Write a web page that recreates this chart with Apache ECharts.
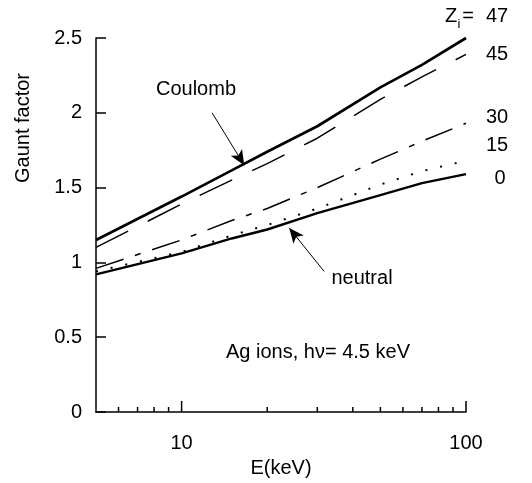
<!DOCTYPE html>
<html>
<head>
<meta charset="utf-8">
<script src="https://cdn.jsdelivr.net/npm/echarts@6/dist/echarts.min.js"></script>
<style>
  html, body { margin: 0; padding: 0; background: #fff; }
  #chart { width: 532px; height: 483px; }
</style>
</head>
<body>
<div id="chart"></div>
<script>
// Electron energy (keV) at which each curve is sampled
const energies = [5, 10, 15, 20, 30, 50, 70, 100];

// Gaunt factor for Ag ions of charge Zi, photon energy 4.5 keV
const gauntZ47 = [1.15, 1.44, 1.615, 1.74, 1.91, 2.17, 2.32, 2.50];
const gauntZ45 = [1.10, 1.39, 1.55, 1.66, 1.83, 2.09, 2.24, 2.39];
const gauntZ30 = [0.96, 1.15, 1.28, 1.36, 1.50, 1.69, 1.81, 1.93];
const gauntZ15 = [0.94, 1.07, 1.18, 1.25, 1.36, 1.52, 1.61, 1.68];
const gauntZ0  = [0.92, 1.06, 1.16, 1.22, 1.33, 1.45, 1.53, 1.59];

// Tick positions on the logarithmic energy axis
const majorTicksX = [10, 100];
const minorTicksX = [6, 7, 8, 9, 20, 30, 40, 50, 60, 70, 80, 90];
const labelledTicksX = [10, 100];

// Arrow annotations, [E, G] at tail and head
const coulombArrow = [[12.8, 2.0], [16.6, 1.65]];
const neutralArrow = [[31.7, 0.94], [23.9, 1.23]];

const FONT = '"Liberation Sans", Arial, Helvetica, sans-serif';
const FS = 20;
const TXT = FS + 'px ' + FONT;

function pairs(ys) { return energies.map((e, i) => [e, ys[i]]); }

function curve(name, ys, width, dash) {
  return {
    name: name,
    type: 'line',
    data: pairs(ys),
    showSymbol: false,
    symbol: 'none',
    smooth: false,
    silent: true,
    lineStyle: { color: '#000', width: width, type: dash, cap: 'butt' }
  };
}

function arrow(pts) {
  return {
    silent: true,
    symbol: ['none', 'arrow'],
    symbolSize: [10, 15],
    label: { show: false },
    lineStyle: { color: '#000', width: 1, type: 'solid' },
    data: [[{ coord: pts[0] }, { coord: pts[1] }]]
  };
}

function tickSeries(values, len) {
  return {
    type: 'custom',
    silent: true,
    data: values.map(v => [v, 0]),
    renderItem: function (params, api) {
      const p = api.coord([api.value(0), 0]);
      return {
        type: 'line',
        shape: { x1: p[0], y1: p[1], x2: p[0], y2: p[1] - len },
        style: { stroke: '#000', lineWidth: 1.5 }
      };
    }
  };
}

function label(text, x, y, extra) {
  return Object.assign({
    type: 'text', x: x, y: y, silent: true,
    style: { text: text, font: TXT, fill: '#000', align: 'center', verticalAlign: 'middle' }
  }, extra || {});
}

const s47 = curve('47', gauntZ47, 2.7, 'solid');
s47.markLine = arrow(coulombArrow);
const s0 = curve('0', gauntZ0, 2.4, 'solid');
s0.markLine = arrow(neutralArrow);

const chart = echarts.init(document.getElementById('chart'), null, { renderer: 'canvas' });

chart.setOption({
  animation: false,
  backgroundColor: '#fff',
  grid: { left: 96, right: 66, top: 38, bottom: 71, containLabel: false },
  xAxis: {
    type: 'log',
    logBase: 10,
    min: 5,
    max: 100,
    name: 'E(keV)',
    nameLocation: 'middle',
    nameGap: 46,
    nameTextStyle: { color: '#000', fontSize: FS, fontFamily: FONT },
    axisLine: { lineStyle: { color: '#000', width: 1.5 } },
    axisTick: { show: false },
    splitLine: { show: false },
    axisLabel: {
      color: '#000',
      fontSize: FS,
      fontFamily: FONT,
      margin: 21,
      showMinLabel: false,
      formatter: function (v) {
        const r = Math.round(v);
        return labelledTicksX.indexOf(r) >= 0 && Math.abs(v - r) < 1e-6 ? String(r) : '';
      }
    }
  },
  yAxis: {
    type: 'value',
    min: 0,
    max: 2.5,
    interval: 0.5,
    axisLine: { show: true, lineStyle: { color: '#000', width: 1.5 } },
    axisTick: { show: true, inside: true, length: 10, lineStyle: { color: '#000', width: 1.5 } },
    splitLine: { show: false },
    axisLabel: { color: '#000', fontSize: FS, fontFamily: FONT, margin: 14 }
  },
  series: [
    s47,
    curve('45', gauntZ45, 1.5, [36, 22]),
    curve('30', gauntZ30, 1.5, [29, 12, 6, 12]),
    curve('15', gauntZ15, 2, [2, 13]),
    s0,
    tickSeries(majorTicksX, 11),
    tickSeries(minorTicksX, 5)
  ],
  graphic: [
    label('Gaunt factor', 23, 128, { rotation: Math.PI / 2 }),
    label('Coulomb', 196, 89),
    label('neutral', 362, 278),
    label('Ag ions, h\u03bd= 4.5 keV', 318, 352),
    label('Z', 451, 16),
    { type: 'text', x: 459, y: 24, silent: true,
      style: { text: 'i', font: '13px ' + FONT, fill: '#000', align: 'center', verticalAlign: 'middle' } },
    label('=', 468, 16),
    label('47', 497, 16),
    label('45', 497, 54),
    label('30', 497, 117),
    label('15', 497, 145),
    label('0', 500, 178)
  ]
});
</script>
</body>
</html>
